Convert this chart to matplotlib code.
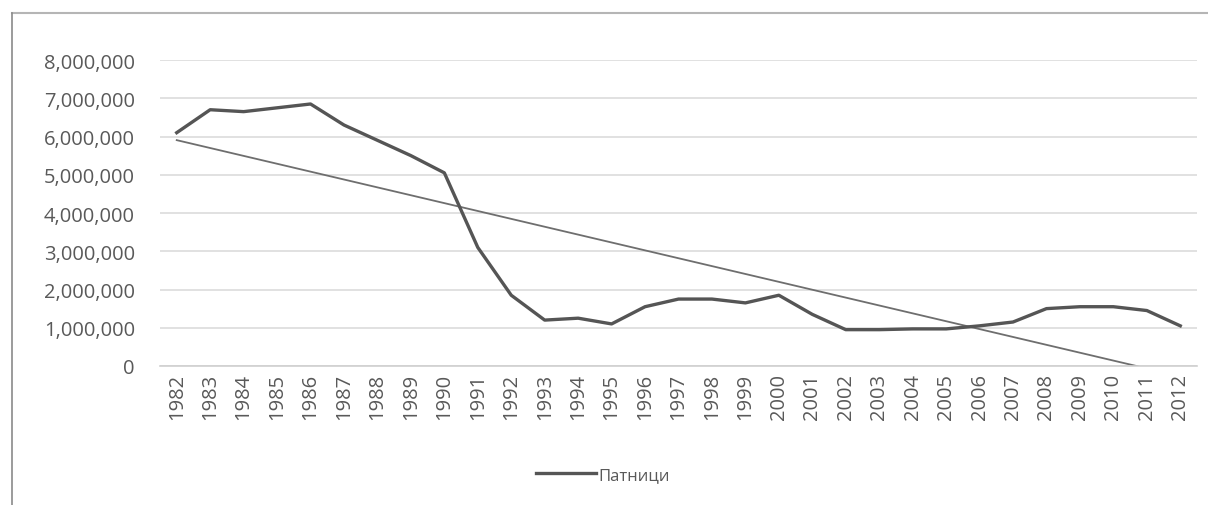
import matplotlib
matplotlib.use("Agg")
import matplotlib.pyplot as plt
from matplotlib.lines import Line2D
import numpy as np

years = [str(y) for y in range(1982, 2013)]
passengers = [6100000, 6700000, 6650000, 6750000, 6850000, 6300000, 5900000, 5500000,
              5050000, 3100000, 1850000, 1200000, 1250000, 1100000, 1550000, 1750000,
              1750000, 1650000, 1850000, 1350000, 950000, 950000, 970000, 970000,
              1050000, 1150000, 1500000, 1550000, 1550000, 1450000, 1050000]
series_label = "Патници"
yticks = [0, 1000000, 2000000, 3000000, 4000000, 5000000, 6000000, 7000000, 8000000]

plt.rcParams['font.family'] = ['Open Sans', 'DejaVu Sans']
W, H = 1208, 506
fig = plt.figure(figsize=(W / 100, H / 100), dpi=100)
ax = fig.add_axes([160 / W, 1 - 367 / H, (1197 - 160) / W, (367 - 61) / H])

x = np.arange(len(years))
ax.plot(x, passengers, color="#555555", lw=2.4, solid_joinstyle="round", zorder=3,
        label=series_label)
coef = np.polyfit(x, passengers, 1)
ax.plot(x, np.polyval(coef, x), color="#6e6e6e", lw=1.3, zorder=2)

ax.set_xlim(-0.5, len(years) - 0.5)
ax.set_ylim(0, 8000000)
ax.set_yticks(yticks)
ax.set_yticklabels([f"{v:,}" for v in yticks], fontsize=14.5, color="#595959")
ax.set_xticks(x)
ax.set_xticklabels(years, rotation=90, fontsize=14.5, color="#595959")
ax.tick_params(axis="y", length=0, pad=18)
ax.tick_params(axis="x", length=0, pad=5)
ax.grid(axis="y", color="#dcdcdc", lw=1.2)
ax.set_axisbelow(True)
for s in ["top", "right", "left"]:
    ax.spines[s].set_visible(False)
ax.spines["bottom"].set_color("#d0d0d0")
ax.spines["bottom"].set_linewidth(1.2)

leg = fig.legend(handles=[Line2D([0], [0], color="#555555", lw=2.4)], labels=[series_label],
                 loc="center", bbox_to_anchor=(603 / W, 1 - 476 / H), frameon=False,
                 fontsize=12, handlelength=3.6, handletextpad=0.1)
for t in leg.get_texts():
    t.set_color("#595959")

# chart frame remnants
fig.add_artist(Line2D([12 / W, 1], [1 - 14 / H, 1 - 14 / H], color="#b5b5b5", lw=1.5,
                      transform=fig.transFigure))
fig.add_artist(Line2D([12 / W, 12 / W], [0, 1 - 14 / H], color="#8a8a8a", lw=1.2,
                      transform=fig.transFigure))

fig.savefig("out.png", dpi=100)
